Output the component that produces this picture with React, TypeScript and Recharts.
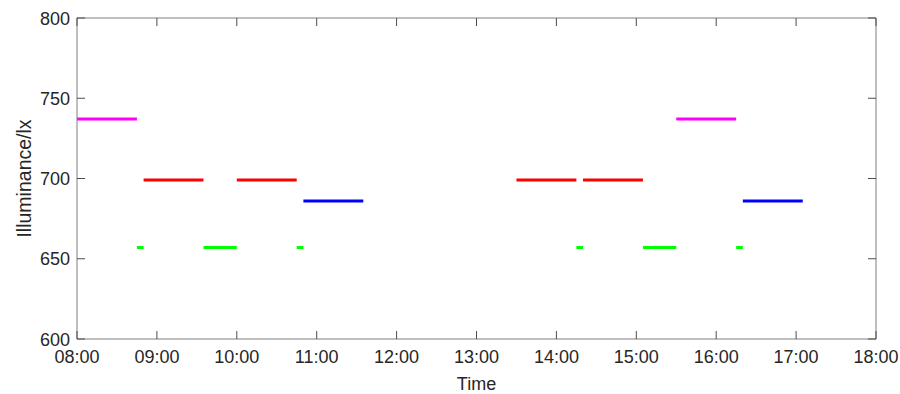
import React from "react";
import { LineChart, Line, XAxis, YAxis } from "recharts";

// time intervals (HH:MM) for each level
const magentaIntervals = [["08:00", "08:45"], ["15:30", "16:15"]];
const redIntervals = [["08:50", "09:35"], ["10:00", "10:45"], ["13:30", "14:15"], ["14:20", "15:05"]];
const blueIntervals = [["10:50", "11:35"], ["16:20", "17:05"]];
const greenIntervals = [
  ["08:45", "08:50"],
  ["09:35", "10:00"],
  ["10:45", "10:50"],
  ["14:15", "14:20"],
  ["15:05", "15:30"],
  ["16:15", "16:20"],
];

const magentaLevel = 737;
const redLevel = 699;
const blueLevel = 686;
const greenLevel = 657;

const xTickLabels = ["08:00", "09:00", "10:00", "11:00", "12:00", "13:00", "14:00", "15:00", "16:00", "17:00", "18:00"];
const yTicks = [600, 650, 700, 750, 800];

const toMin = (s: string) => {
  const [h, m] = s.split(":").map(Number);
  return h * 60 + m;
};
const fmt = (v: number) => {
  const h = Math.floor(v / 60);
  const m = v % 60;
  return `${String(h).padStart(2, "0")}:${String(m).padStart(2, "0")}`;
};

const buildSeries = (intervals: string[][], level: number) =>
  intervals.flatMap(([a, b]) => [
    { t: toMin(a), v: level },
    { t: toMin(b), v: level },
    { t: toMin(b), v: null },
  ]);

const series = [
  { key: "magenta", data: buildSeries(magentaIntervals, magentaLevel), color: "#ff00ff" },
  { key: "red", data: buildSeries(redIntervals, redLevel), color: "#ff0000" },
  { key: "blue", data: buildSeries(blueIntervals, blueLevel), color: "#0000ff" },
  { key: "green", data: buildSeries(greenIntervals, greenLevel), color: "#00ff00" },
];

const xTicks = xTickLabels.map(toMin);
const xDomain = [xTicks[0], xTicks[xTicks.length - 1]];
const font = { fontFamily: "'Liberation Sans', Arial, sans-serif", fontSize: 18, fill: "#262626" };
const axisColor = "#7f7f7f";
const tickColor = "#4d4d4d";
const tickLen = 8;

// inward ticks, MATLAB style (tickSize/tickMargin = 0 so x/y sit on the axis line)
const BottomTick = ({ x, y, payload }: any) => (
  <g>
    <line x1={x} x2={x} y1={y} y2={y - tickLen} stroke={tickColor} />
    <text x={x} y={y + 24} textAnchor="middle" {...font}>
      {fmt(payload.value)}
    </text>
  </g>
);
const TopTick = ({ x, y }: any) => <line x1={x} x2={x} y1={y} y2={y + tickLen} stroke={tickColor} />;
const LeftTick = ({ x, y, payload }: any) => (
  <g>
    <line x1={x} x2={x + tickLen} y1={y} y2={y} stroke={tickColor} />
    <text x={x - 7} y={y + 6.5} textAnchor="end" {...font}>
      {payload.value}
    </text>
  </g>
);
const RightTick = ({ x, y }: any) => <line x1={x} x2={x - tickLen} y1={y} y2={y} stroke={tickColor} />;

const App: React.FC = () => {
  return (
    <div style={{ position: "absolute", left: 0, top: 0, background: "#fff" }}>
      <LineChart width={900} height={394} margin={{ top: 17, right: 23, bottom: 0, left: 17 }}>
        <XAxis
          dataKey="t"
          type="number"
          domain={xDomain}
          ticks={xTicks}
          stroke={axisColor}
          tick={<BottomTick />}
          tickLine={false}
          tickSize={0}
          tickMargin={0}
          height={55}
          interval={0}
          label={{ value: "Time", position: "insideBottom", offset: 4, style: font }}
        />
        <XAxis
          xAxisId="top"
          orientation="top"
          dataKey="t"
          type="number"
          domain={xDomain}
          ticks={xTicks}
          stroke={axisColor}
          tick={<TopTick />}
          tickLine={false}
          tickSize={0}
          tickMargin={0}
          interval={0}
          height={1}
        />
        <YAxis
          type="number"
          domain={[600, 800]}
          ticks={yTicks}
          stroke={axisColor}
          tick={<LeftTick />}
          tickLine={false}
          tickSize={0}
          tickMargin={0}
          interval={0}
          width={60}
          label={{
            value: "Illuminance/lx",
            angle: -90,
            position: "insideLeft",
            offset: 7,
            style: { ...font, fontSize: 19.5, textAnchor: "middle" },
          }}
        />
        <YAxis
          yAxisId="right"
          orientation="right"
          type="number"
          domain={[600, 800]}
          ticks={yTicks}
          stroke={axisColor}
          tick={<RightTick />}
          tickLine={false}
          tickSize={0}
          tickMargin={0}
          interval={0}
          width={1}
        />
        {series.map((s) => (
          <Line
            key={s.key}
            data={s.data}
            dataKey="v"
            type="linear"
            stroke={s.color}
            strokeWidth={3}
            dot={false}
            activeDot={false}
            connectNulls={false}
            isAnimationActive={false}
          />
        ))}
        {/* hidden series so the frame axes (top/right) get drawn */}
        <Line
          data={series[0].data}
          dataKey="v"
          xAxisId="top"
          yAxisId="right"
          stroke="none"
          dot={false}
          activeDot={false}
          legendType="none"
          isAnimationActive={false}
        />
      </LineChart>
    </div>
  );
};

export default App;
